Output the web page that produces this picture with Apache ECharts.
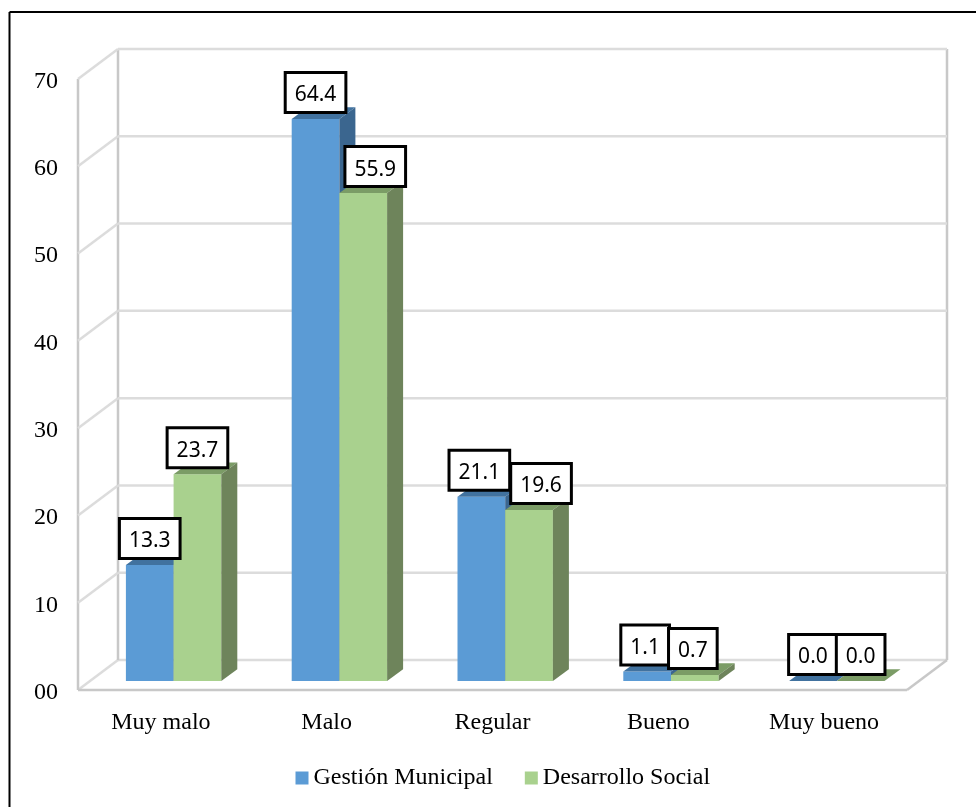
<!DOCTYPE html>
<html><head><meta charset="utf-8">
<style>html,body{margin:0;padding:0;background:#fff}#c{width:976px;height:807px}</style>
<script src="https://cdn.jsdelivr.net/npm/echarts@6/dist/echarts.min.js"></script>
</head><body><div id="c"></div>
<script>
const categories = ['Muy malo','Malo','Regular','Bueno','Muy bueno'];
const gestion = [13.3,64.4,21.1,1.1,0.0];
const desarrollo = [23.7,55.9,19.6,0.7,0.0];
const ticks = [0,10,20,30,40,50,60,70];
const tickLabels = ['00','10','20','30','40','50','60','70'];
const serieGestion = 'Gestión Municipal';
const serieDesarrollo = 'Desarrollo Social';
const shiftGestion = [0,0,-2,-2,0];
const shiftDesarrollo = [0,12,12,-2,0];

const chart = echarts.init(document.getElementById('c'), null, {renderer:'canvas'});
const WALL = {x:40,y:-30};
const BASE = {x:12.7,y:-9};
const DEPTH = {x:16,y:-11.7};
const BAR = 0.2877;
const GRID = '#dcdcdc', EDGE = '#c8c8c8';
const serif = '"Liberation Serif","Times New Roman",serif';

function seg(a,b,color,w){
  return {type:'line',shape:{x1:a[0],y1:a[1],x2:b[0],y2:b[1]},style:{stroke:color,lineWidth:w},silent:true};
}
function wallsItem(params,api){
  const v = api.value(1);
  const left = api.coord([0,v]); const band = api.size([1,0])[0];
  const x0 = left[0]-band/2, x1 = x0+band*categories.length, y = left[1];
  const out = [
    seg([x0+WALL.x,y+WALL.y],[x1+WALL.x,y+WALL.y],GRID,2.5),
    seg([x0,y],[x0+WALL.x,y+WALL.y],GRID,2.5)
  ];
  if(v===ticks[0]){
    const top = api.coord([0,ticks[ticks.length-1]])[1];
    out.push(seg([x0,y],[x1,y],EDGE,2.5));
    out.push(seg([x1,y],[x1+WALL.x,y+WALL.y],EDGE,2.5));
    out.push(seg([x0,y],[x0,top],EDGE,2.5));
    out.push(seg([x0+WALL.x,y+WALL.y],[x0+WALL.x,top+WALL.y],EDGE,2.5));
    out.push(seg([x1+WALL.x,y+WALL.y],[x1+WALL.x,top+WALL.y],EDGE,2.5));
  }
  return {type:'group',children:out};
}
function poly(points,color){
  return {type:'polygon',shape:{points},style:{fill:color}};
}
function barItem(slot,front,top,side){
  return function(params,api){
    const i = api.value(0), v = api.value(1);
    const band = api.size([1,0])[0], w = band*BAR;
    const c = api.coord([i,v]), z = api.coord([i,0]);
    const xl = c[0]+BASE.x+(slot===0?-w:0), xr = xl+w;
    const yt = c[1]+BASE.y, yb = z[1]+BASE.y;
    const ch = [];
    if(yb-yt>0.01) ch.push(poly([[xl,yt],[xr,yt],[xr,yb],[xl,yb]],front));
    ch.push(poly([[xl,yt],[xr,yt],[xr+DEPTH.x,yt+DEPTH.y],[xl+DEPTH.x,yt+DEPTH.y]],top));
    if(yb-yt>0.01) ch.push(poly([[xr,yt],[xr+DEPTH.x,yt+DEPTH.y],[xr+DEPTH.x,yb+DEPTH.y],[xr,yb]],side));
    return {type:'group',children:ch};
  };
}
function labelItem(slot,shifts){
  return function(params,api){
    const i = api.value(0), v = api.value(1);
    const band = api.size([1,0])[0], w = band*BAR;
    const c = api.coord([i,v]);
    const xc = c[0]+BASE.x+(slot===0?-w/2:w/2)+shifts[i];
    return {type:'text',style:{
      text:v.toFixed(1),x:xc,y:c[1]+BASE.y-8,align:'center',verticalAlign:'bottom',
      font:'21px "Noto Sans"',fill:'#000',backgroundColor:'#fff',
      borderColor:'#000',borderWidth:3,padding:[11,8,5,8]
    }};
  };
}
const pairs = s => s.map((v,i)=>[i,v]);
chart.setOption({
  animation:false,
  backgroundColor:'#fff',
  grid:{left:78,right:69,top:79,bottom:117,containLabel:false},
  xAxis:{type:'category',data:categories,axisLine:{show:false},axisTick:{show:false},
    axisLabel:{color:'#000',fontFamily:serif,fontSize:24,margin:21}},
  yAxis:{type:'value',min:0,max:70,interval:10,splitLine:{show:false},axisLine:{show:false},axisTick:{show:false},
    axisLabel:{color:'#000',fontFamily:serif,fontSize:24,margin:20,
      formatter:v=>'{a|'+tickLabels[ticks.indexOf(v)]+'}',
      rich:{a:{color:'#000',fontFamily:serif,fontSize:24,padding:[5,0,0,0]}}}},
  legend:{data:[serieGestion,serieDesarrollo],left:295.5,top:766,padding:0,itemWidth:13,itemHeight:13,itemGap:32,icon:'rect',
    textStyle:{color:'#000',fontFamily:serif,fontSize:24}},
  graphic:[
    {type:'line',shape:{x1:9.5,y1:12,x2:976,y2:12},style:{stroke:'#000',lineWidth:2},silent:true,z:100},
    {type:'line',shape:{x1:9.5,y1:12,x2:9.5,y2:807},style:{stroke:'#000',lineWidth:2},silent:true,z:100}
  ],
  series:[
    {type:'custom',name:'walls',data:ticks.map(t=>[0,t]),encode:{x:0,y:1},silent:true,z:1,clip:false,renderItem:wallsItem},
    {type:'custom',name:serieGestion,data:pairs(gestion),encode:{x:0,y:1},z:2,clip:false,itemStyle:{color:'#5B9BD5'},
      renderItem:barItem(0,'#5B9BD5','#41729F','#3B668F')},
    {type:'custom',name:serieDesarrollo,data:pairs(desarrollo),encode:{x:0,y:1},z:3,clip:false,itemStyle:{color:'#A9D18E'},
      renderItem:barItem(1,'#A9D18E','#7B9C66','#6E845B')},
    {type:'custom',name:'labelsA',data:pairs(gestion),encode:{x:0,y:1},z:5,clip:false,silent:true,renderItem:labelItem(0,shiftGestion)},
    {type:'custom',name:'labelsB',data:pairs(desarrollo),encode:{x:0,y:1},z:6,clip:false,silent:true,renderItem:labelItem(1,shiftDesarrollo)}
  ]
});
</script></body></html>
